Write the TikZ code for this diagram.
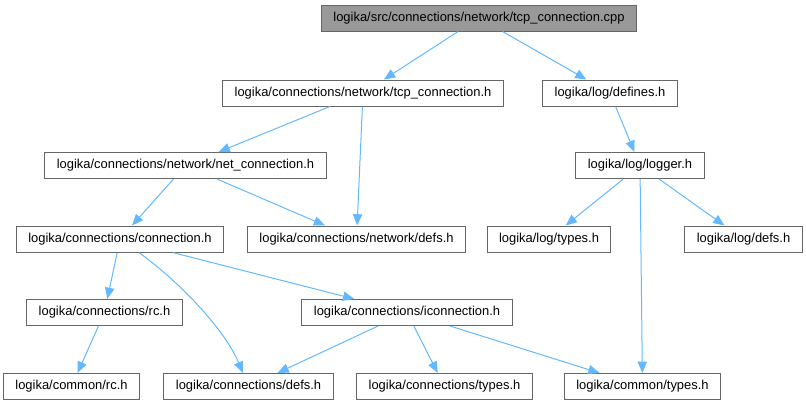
\documentclass[tikz,border=0pt]{standalone}
\usepackage{fontspec}
\setmainfont{Liberation Sans}
\usetikzlibrary{arrows.meta}
\definecolor{incedge}{HTML}{63B8FF}
\definecolor{incline}{HTML}{666666}
\definecolor{incroot}{HTML}{999999}

\begin{document}
\begin{tikzpicture}[x=0.75pt, y=-0.75pt,
  file/.style={draw=incline, fill=white, line width=0.75pt, minimum height=19.5pt, inner xsep=9pt, inner ysep=0pt, font=\fontsize{9.7}{11}\selectfont},
  rootfile/.style={file, fill=incroot},
  inc/.style={-{Triangle[length=8.5pt, width=7pt]}, draw=incedge, line width=0.75pt}]
\useasboundingbox (0,0) rectangle (806,405);
% files
\node[rootfile] (cpp) at (479,18) {logika/src/connections/network/tcp\_connection.cpp};
\node[file] (tcph) at (363,93) {logika/connections/network/tcp\_connection.h};
\node[file] (defines) at (610,93) {logika/log/defines.h};
\node[file] (netconn) at (185.5,165.5) {logika/connections/network/net\_connection.h};
\node[file] (logger) at (640,165.5) {logika/log/logger.h};
\node[file] (conn) at (120,239) {logika/connections/connection.h};
\node[file] (netdefs) at (356.5,239) {logika/connections/network/defs.h};
\node[file] (logtypes) at (549,239) {logika/log/types.h};
\node[file] (logdefs) at (743.5,239) {logika/log/defs.h};
\node[file] (connrc) at (104.5,312.5) {logika/connections/rc.h};
\node[file] (iconn) at (407,312.5) {logika/connections/iconnection.h};
\node[file] (commonrc) at (71.5,386.5) {logika/common/rc.h};
\node[file] (conndefs) at (248.5,386.5) {logika/connections/defs.h};
\node[file] (conntypes) at (444.5,386.5) {logika/connections/types.h};
\node[file] (commontypes) at (642.5,386.5) {logika/common/types.h};
% includes
\draw[inc] (cpp) -- (tcph);
\draw[inc] (cpp) -- (defines);
\draw[inc] (tcph) -- (netconn);
\draw[inc] (tcph) -- (netdefs);
\draw[inc] (defines) -- (logger);
\draw[inc] (netconn) -- (conn);
\draw[inc] (netconn) -- (netdefs);
\draw[inc] (logger) -- (logtypes);
\draw[inc] (logger) -- (logdefs);
\draw[inc] (logger) -- (commontypes);
\draw[inc] (conn) -- (connrc);
\draw[inc] (conn) .. controls (180,282) and (225,330) .. (conndefs);
\draw[inc] (conn) -- (iconn);
\draw[inc] (connrc) -- (commonrc);
\draw[inc] (iconn) -- (conndefs);
\draw[inc] (iconn) -- (conntypes);
\draw[inc] (iconn) -- (commontypes);
\end{tikzpicture}
\end{document}
